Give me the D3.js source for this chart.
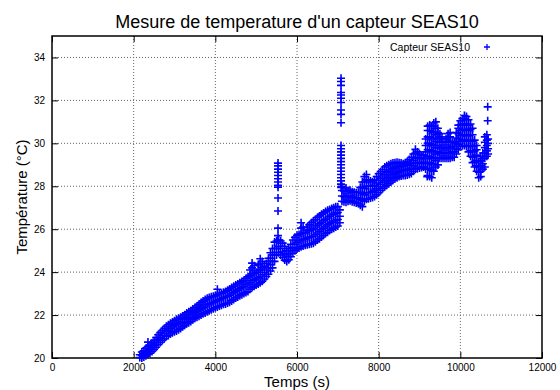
<html lang="fr">
<head>
<meta charset="UTF-8">
<title>SEAS10</title>
<style>
  body { margin: 0; background: #fff; }
  text { font-family: "Liberation Sans", Arial, sans-serif; }
</style>
</head>
<body>
<script src="https://cdn.jsdelivr.net/npm/d3@7"></script>
<script>
// readings: [time (s), [temperatures read at that time (°C)]]
var rampReadings = [
  [2150,[20.02,20.15]],[2200,[20.0,20.12,20.28]],[2250,[20.05,20.2,20.34]],
  [2300,[20.1,20.28,20.46]],[2350,[20.18,20.36,20.55,20.74]],[2400,[20.22,20.4,20.6]],
  [2450,[20.3,20.5,20.7]],[2500,[20.4,20.6,20.82]],[2550,[20.5,20.72,20.95]],
  [2600,[20.62,20.85,21.08]],[2650,[20.72,20.95,21.18]],[2700,[20.82,21.05,21.28]],
  [2750,[20.9,21.15,21.38]],[2800,[21.0,21.25,21.48]],[2850,[21.05,21.3,21.55]],
  [2900,[21.12,21.38,21.62]],[2950,[21.18,21.45,21.68]],[3000,[21.22,21.5,21.74]],
  [3050,[21.26,21.55,21.8]],[3100,[21.32,21.6,21.85]],[3150,[21.38,21.66,21.9]],
  [3200,[21.45,21.7,21.96]],[3250,[21.52,21.78,22.02]],[3300,[21.6,21.85,22.1]],
  [3350,[21.64,21.9,22.15]],[3400,[21.7,21.96,22.2]],[3450,[21.78,22.04,22.28]],
  [3500,[21.85,22.1,22.35]],[3550,[21.9,22.18,22.42]],[3600,[21.95,22.24,22.5]],
  [3650,[22.0,22.3,22.58]],[3700,[22.06,22.36,22.65]],[3750,[22.1,22.42,22.72]],
  [3800,[22.16,22.48,22.78]],[3850,[22.2,22.52,22.82]],[3900,[22.25,22.56,22.85]],
  [3950,[22.3,22.6,22.88]],[4000,[22.34,22.64,22.9]],[4050,[22.38,22.68,22.95,23.2]],
  [4100,[22.42,22.72,23.0]],[4150,[22.46,22.76,23.02]],[4200,[22.5,22.8,23.06]],
  [4250,[22.52,22.84,23.1]],[4300,[22.56,22.88,23.16]],[4350,[22.6,22.92,23.22]],
  [4400,[22.66,22.98,23.28]],[4450,[22.72,23.04,23.34]],[4500,[22.8,23.1,23.4]],
  [4550,[22.84,23.16,23.45]],[4600,[22.9,23.22,23.5]],[4650,[22.95,23.28,23.56]],
  [4700,[23.0,23.32,23.62]],[4750,[23.05,23.4,23.7]],[4800,[23.1,23.45,23.78]],
  [4850,[23.2,23.52,23.85,24.1]],[4900,[23.28,23.6,23.92,24.2,24.42]],
  [4950,[23.34,23.65,23.95,24.3]],[5000,[23.4,23.7,24.0]],
  [5050,[23.45,23.75,24.08,24.35]],[5100,[23.5,23.8,24.12,24.4,24.62]],
  [5150,[23.58,23.88,24.2,24.5]],[5200,[23.68,23.98,24.28]],[5250,[23.8,24.1,24.4]],
  [5300,[23.9,24.2,24.5,24.65]],[5350,[24.05,24.35,24.65,24.9]],
  [5400,[24.2,24.5,24.8,25.1]],[5450,[24.5,24.8,25.1,25.4]],[5500,[24.8,25.1,25.45]]
];
var spike1 = [5535, [29.08,28.95,28.8,28.65,28.5,28.35,28.2,28.05,27.96,27.45,26.85,26.05,25.7,25.5]];
var midReadings = [
  [5550,[24.9,25.2,25.5]],[5600,[24.8,25.1,25.45]],[5650,[24.68,24.95,25.35]],
  [5700,[24.56,24.85,25.2]],[5750,[24.5,24.75,25.0]],[5800,[24.58,24.85,25.1]],
  [5850,[24.72,25.0,25.3]],[5900,[24.88,25.15,25.5]],[5950,[25.0,25.3,25.62]],
  [6000,[25.08,25.38,25.72]],[6050,[25.12,25.45,25.75]],[6100,[25.18,25.5,25.8,26.05,26.3]],
  [6150,[25.22,25.52,25.82,26.1]],[6200,[25.25,25.55,25.85]],[6250,[25.28,25.6,25.95,26.1]],
  [6300,[25.3,25.62,25.92,26.2]],[6350,[25.32,25.65,25.98,26.3]],[6400,[25.35,25.68,26.02,26.38]],
  [6450,[25.42,25.75,26.1,26.45]],[6500,[25.5,25.82,26.18,26.55]],[6550,[25.56,25.9,26.25,26.62]],
  [6600,[25.64,25.98,26.32,26.7]],[6650,[25.72,26.05,26.4,26.76]],[6700,[25.8,26.12,26.46,26.82]],
  [6750,[25.86,26.2,26.52,26.88]],[6800,[25.94,26.26,26.6,26.92]],[6850,[26.0,26.32,26.66,26.96]],
  [6900,[26.05,26.38,26.7,27.0]],[6950,[26.1,26.42,26.75,27.05]],[7000,[26.15,26.45,26.78,27.05]],
  [7050,[26.3,26.6,26.9]]
];
var spike2 = [7078, [33.03,32.88,32.7,32.37,32.25,32.1,31.9,31.55,31.35,30.96,29.9,29.75,29.6,
  29.45,29.3,29.15,29.0,28.85,28.7,28.55,28.4,28.25,28.1,27.95]];
var lateReadings = [
  [7100,[27.3,27.55,27.8,28.0]],[7150,[27.28,27.52,27.78]],[7200,[27.25,27.5,27.75,27.92]],
  [7250,[27.3,27.55,27.8]],[7300,[27.32,27.56,27.82]],[7350,[27.28,27.5,27.75]],
  [7400,[27.25,27.48,27.72]],[7450,[27.22,27.45,27.7]],[7500,[27.2,27.45,27.72]],
  [7550,[27.12,27.4,27.72,27.95]],[7600,[27.05,27.35,27.65,27.95,28.2]],
  [7650,[27.3,27.6,27.9,28.2,28.45]],[7700,[27.4,27.7,28.0,28.3,28.55]],
  [7750,[27.42,27.7,28.0,28.3]],[7800,[27.45,27.72,28.0,28.25]],[7850,[27.48,27.75,28.0,28.2]],
  [7900,[27.52,27.8,28.05,28.3]],[7950,[27.6,27.88,28.15,28.45]],[8000,[27.7,27.98,28.28,28.58]],
  [8050,[27.8,28.08,28.38,28.68]],[8100,[27.9,28.18,28.48,28.78]],[8150,[27.98,28.26,28.56,28.9]],
  [8200,[28.05,28.34,28.64,28.95]],[8250,[28.12,28.4,28.7,29.0]],[8300,[28.2,28.48,28.76,29.05]],
  [8350,[28.28,28.55,28.82,29.08]],[8400,[28.35,28.6,28.86,29.1]],[8450,[28.4,28.65,28.9,29.12]],
  [8500,[28.45,28.7,28.92,29.1]],[8550,[28.48,28.72,28.94,29.08]],[8600,[28.5,28.74,28.95,29.05]],
  [8650,[28.5,28.75,28.98,29.1]],[8700,[28.52,28.78,29.0,29.15]],[8750,[28.56,28.8,29.05,29.25]],
  [8800,[28.6,28.85,29.1,29.35]],[8850,[28.7,28.95,29.2,29.5]],[8900,[28.8,29.05,29.3,29.55,29.72]],
  [8950,[28.82,29.08,29.35,29.6]],[9000,[28.85,29.1,29.32,29.5]],[9050,[28.88,29.1,29.3,29.45]],
  [9100,[28.9,29.1,29.3,29.45]],[9150,[28.8,29.05,29.3,29.6,29.9,30.2]],
  [9200,[28.5,28.85,29.1,29.4,29.7,30.0,30.3,30.6,30.8]],
  [9250,[28.45,28.8,29.1,29.4,29.7,30.0,30.3,30.6,30.85]],
  [9300,[28.4,28.75,29.05,29.35,29.65,29.95,30.25,30.55,30.8]],
  [9350,[28.7,29.0,29.3,29.6,29.9,30.2,30.5,30.8,30.95]],
  [9400,[28.9,29.2,29.5,29.8,30.1,30.4,30.7,31.0]],
  [9450,[29.0,29.3,29.6,29.9,30.2,30.5,30.7]],[9500,[29.3,29.55,29.8,30.05,30.3,30.45]],
  [9550,[29.3,29.55,29.8,30.05,30.25]],[9600,[29.3,29.55,29.8,30.05]],
  [9650,[29.3,29.55,29.8,30.05,30.2]],[9700,[29.3,29.55,29.8,30.05,30.3,30.45]],
  [9750,[29.3,29.55,29.8,30.05,30.3,30.5]],[9800,[29.35,29.6,29.85,30.1]],
  [9850,[29.35,29.6,29.85,30.05]],[9900,[29.5,29.75,30.0,30.25,30.5]],
  [9950,[29.7,29.95,30.2,30.45,30.7,30.85]],[10000,[29.85,30.1,30.35,30.6,30.85,31.05]],
  [10050,[29.9,30.15,30.4,30.65,30.9,31.15]],[10100,[29.9,30.15,30.4,30.65,30.9,31.15,31.3]],
  [10150,[29.85,30.1,30.35,30.6,30.85,31.1,31.25]],[10200,[29.6,29.85,30.1,30.35,30.6,30.85,31.1]],
  [10250,[29.4,29.65,29.9,30.15,30.4,30.65,30.9]],[10300,[29.1,29.35,29.6,29.85,30.1,30.4,30.7]],
  [10350,[28.9,29.15,29.4,29.65,29.9,30.15]],[10400,[28.7,28.95,29.2,29.45,29.7,29.9]],
  [10450,[28.4,28.65,28.9,29.15]],[10500,[28.45,28.7,28.95,29.2,29.4]],
  [10550,[28.8,29.05,29.3,29.55]],[10600,[28.9,29.3,29.55,29.8,30.05,30.3]],
  [10650,[29.4,29.65,29.9,30.15,30.4]],[10680,[29.5,29.75,30.0,30.2]]
];
var outliers = [[9190,28.45],[9450,29.0],[10670,31.05],[10670,31.7]];

var xTicks = [0, 2000, 4000, 6000, 8000, 10000, 12000];
var yTicks = [20, 22, 24, 26, 28, 30, 32, 34];

var points = [];
rampReadings.concat([spike1], midReadings, [spike2], lateReadings).forEach(function(r){
    r[1].forEach(function(v){ points.push([r[0], v]); });
});
points = points.concat(outliers);

var svg = d3.select("body").append("svg").attr("width", 560).attr("height", 390);

var x = d3.scaleLinear().domain([0, 12000]).range([52, 542]);
var y = d3.scaleLinear().domain([20, 35]).range([358, 36]);

// grid
svg.append("g").selectAll("line").data(xTicks.slice(1, -1)).enter().append("line")
    .attr("x1", function(d){ return x(d); }).attr("x2", function(d){ return x(d); })
    .attr("y1", y(20)).attr("y2", y(35))
    .attr("stroke", "#666").attr("stroke-width", 1).attr("stroke-dasharray", "1,2");
svg.append("g").selectAll("line").data(yTicks.slice(1)).enter().append("line")
    .attr("y1", function(d){ return y(d); }).attr("y2", function(d){ return y(d); })
    .attr("x1", x(0)).attr("x2", x(12000))
    .attr("stroke", "#666").attr("stroke-width", 1).attr("stroke-dasharray", "1,2");

// axes (ticks inward, mirrored)
svg.append("g").attr("transform", "translate(0," + y(20) + ")")
    .call(d3.axisBottom(x).tickValues(xTicks).tickSize(-6).tickPadding(6).tickFormat(d3.format("d")));
svg.append("g").attr("transform", "translate(0," + y(35) + ")")
    .call(d3.axisTop(x).tickValues(xTicks).tickSize(-6).tickFormat(""));
svg.append("g").attr("transform", "translate(" + x(0) + ",0)")
    .call(d3.axisLeft(y).tickValues(yTicks).tickSize(-6).tickPadding(7));
svg.append("g").attr("transform", "translate(" + x(12000) + ",0)")
    .call(d3.axisRight(y).tickValues(yTicks).tickSize(-6).tickFormat(""));
svg.selectAll(".domain").remove();
svg.selectAll(".tick line").attr("stroke", "#000");
svg.selectAll(".tick text").attr("font-size", 10).attr("fill", "#000")
    .style("font-family", "'Liberation Sans', Arial, sans-serif");

svg.append("rect").attr("x", x(0)).attr("y", y(35))
    .attr("width", x(12000) - x(0)).attr("height", y(20) - y(35))
    .attr("fill", "none").attr("stroke", "#000").attr("stroke-width", 1.5);

// points
var plus = "M-4,0H4M0,-4V4";
svg.append("g").selectAll("path").data(points).enter().append("path")
    .attr("d", plus)
    .attr("transform", function(d){ return "translate(" + x(d[0]) + "," + y(d[1]) + ")"; })
    .attr("stroke", "#0000ff").attr("stroke-width", 1.6).attr("fill", "none");

// legend
svg.append("text").attr("x", 470).attr("y", 51).attr("text-anchor", "end")
    .attr("font-size", 10.5).text("Capteur SEAS10");
svg.append("path").attr("d", "M-3,0H3M0,-3V3").attr("transform", "translate(487,47)")
    .attr("stroke", "#0000ff").attr("stroke-width", 1.3);

// titles
svg.append("text").attr("x", 297).attr("y", 28).attr("text-anchor", "middle")
    .attr("font-size", 18).text("Mesure de temperature d'un capteur SEAS10");
svg.append("text").attr("x", 297).attr("y", 387).attr("text-anchor", "middle")
    .attr("font-size", 15).text("Temps (s)");
svg.append("text").attr("transform", "translate(27,197) rotate(-90)").attr("text-anchor", "middle")
    .attr("font-size", 15).text("Température (°C)");
</script>
</body>
</html>
